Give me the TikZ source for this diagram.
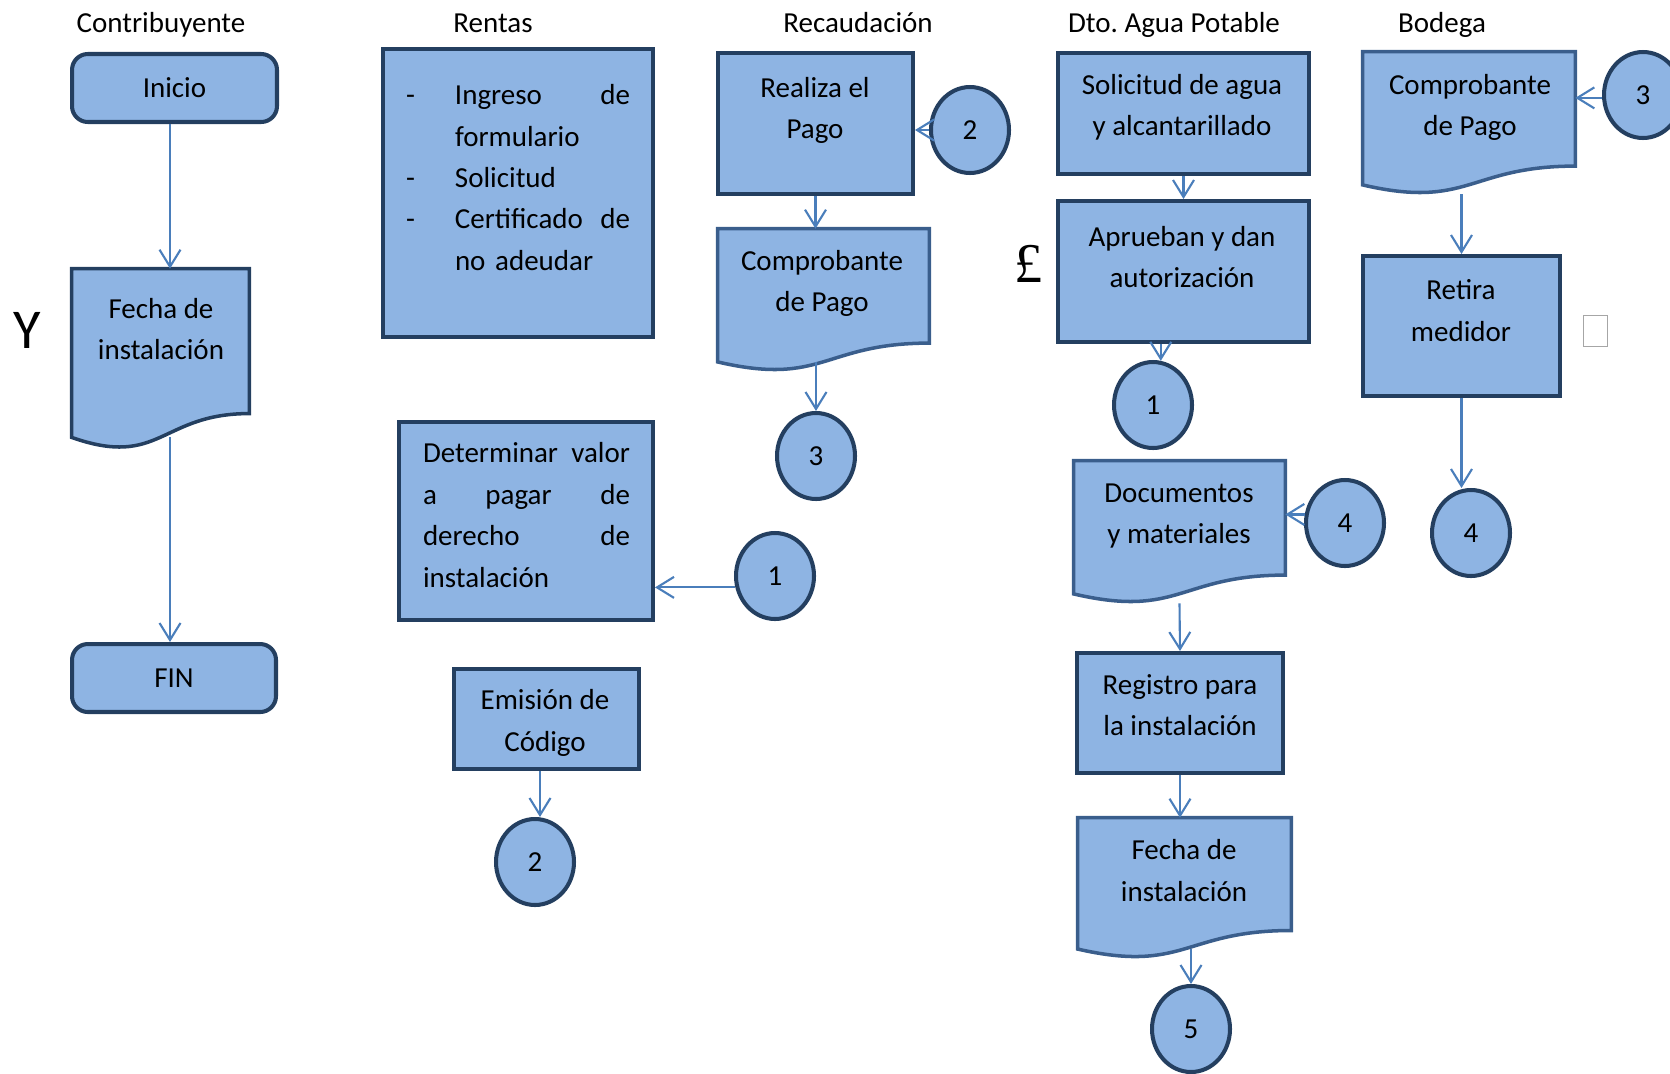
\documentclass[tikz,border=0pt]{standalone}
\usepackage{fontspec}
\setmainfont{Carlito}
\newfontfamily\glyphfont{Liberation Serif}
\usetikzlibrary{arrows.meta,shapes.geometric,calc}
\frenchspacing

\definecolor{boxfill}{RGB}{142,180,227}
\definecolor{boxline}{RGB}{36,63,96}
\definecolor{docline}{RGB}{58,94,140}
\definecolor{flow}{RGB}{74,126,187}

\tikzset{
  proc/.style={draw=boxline, fill=boxfill, line width=2.3pt, rectangle, inner sep=0pt},
  term/.style={proc, rounded corners=9pt},
  conn/.style={proc, ellipse, minimum width=1.56cm, minimum height=1.72cm},
  docarea/.style={rectangle, inner sep=0pt},
  docshape/.style={draw=docline, fill=boxfill, line width=2pt},
  txt/.style={align=center, inner sep=0pt},
  title/.style={anchor=base, inner sep=0pt},
  flowarr/.style={draw=flow, line width=1.2pt, -{Straight Barb[length=0.34cm,width=0.42cm]}},
}

% document symbol with a wavy bottom edge, drawn over a named area
\newcommand\docpath[2][docline]{%
  \filldraw[docshape, draw=#1] (#2.north west) -- (#2.north east)
    -- ($(#2.north east)!0.802!(#2.south east)$)
    .. controls ($(#2.north)!0.802!(#2.south)$) and ($(#2.north)!1.107!(#2.south)$)
    .. ($(#2.north west)!0.934!(#2.south west)$) -- cycle;
  \coordinate (#2-w) at ($(#2.north)!0.933!(#2.south)$);}

\begin{document}
\begin{tikzpicture}[x=0.02cm, y=-0.02cm, font=\fontsize{16.5}{23.6}\selectfont]
  \useasboundingbox (0,0) rectangle (1670,1073);

  % lane titles
  \node[title] (t-contrib) at (161,32) {Contribuyente};
  \node[title] (t-rentas) at (493,32) {Rentas};
  \node[title] (t-recaud) at (858,32) {Recaudación};
  \node[title] (t-agua) at (1174,32) {Dto. Agua Potable};
  \node[title] (t-bodega) at (1442,32) {Bodega};

  % Contribuyente
  \node[term, minimum width=4.1cm, minimum height=1.36cm] (inicio) at (174.5,88) {Inicio};
  \node[docarea, minimum width=3.54cm, minimum height=3.6cm] (fechaA) at (160.5,359) {};
  \docpath[boxline]{fechaA}
  \node[txt] (fechaA-t) at (161,329) {Fecha de\\instalación};
  \node[term, minimum width=4.08cm, minimum height=1.36cm] (fin) at (174,678) {FIN};
  \node (yglyph) at (27,330) {\fontsize{32}{36}\selectfont Y};
  \coordinate (colA) at (170,0);

  % Rentas
  \node[proc, minimum width=5.4cm, minimum height=5.76cm] (requisitos) at (518,193) {};
  \node[txt, align=left, text width=4.48cm] (requisitos-t) at (518,177.5) {%
    \makebox[0.98cm][l]{-}Ingreso\hfill de\\
    \hspace*{0.98cm}formulario\\
    \makebox[0.98cm][l]{-}Solicitud\\
    \makebox[0.98cm][l]{-}Certificado\hfill de\\
    \hspace*{0.98cm}no adeudar};
  \node[proc, minimum width=5.08cm, minimum height=3.96cm] (valor) at (526,521) {};
  \node[txt, align=left, text width=4.14cm] (valor-t) at (526.5,515) {%
    Determinar\hfill valor\\
    a\hfill pagar\hfill de\\
    derecho\hfill de\\
    instalación};
  \node[conn] (c1r) at (775,576) {1};
  \node[proc, minimum width=3.7cm, minimum height=2cm] (emision) at (546.5,719) {};
  \node[txt] (emision-t) at (545,723) {Emisión de\\Código};
  \node[conn] (c2e) at (535,862) {2};
  \coordinate (colE) at (540,0);

  % Recaudación
  \node[proc, minimum width=3.9cm, minimum height=2.82cm] (pago) at (815.5,123.5) {};
  \node[txt] (pago-t) at (815,110.5) {Realiza el\\Pago};
  \node[conn] (c2r) at (970,130) {2};
  \node[docarea, minimum width=4.22cm, minimum height=2.84cm] (compB) at (823.5,300) {};
  \docpath{compB}
  \node[txt] (compB-t) at (822,283.5) {Comprobante\\de Pago};
  \node[conn] (c3r) at (816,456) {3};

  % Dto. Agua Potable
  \node[proc, minimum width=5.02cm, minimum height=2.42cm] (solicitud) at (1183.5,113.5) {};
  \node[txt] (solicitud-t) at (1182,107.5) {Solicitud de agua\\y alcantarillado};
  \node[proc, minimum width=5.02cm, minimum height=2.82cm] (aprueban) at (1183.5,271.5) {};
  \node[txt] (aprueban-t) at (1182,257) {Aprueban y dan\\autorización};
  \node (pound) at (1029,264) {\glyphfont\fontsize{32}{36}\selectfont £};
  \node[conn] (c1d) at (1153,405) {1};
  \node[docarea, minimum width=4.22cm, minimum height=2.84cm] (docum) at (1179.5,532) {};
  \docpath{docum}
  \node[txt] (docum-t) at (1179,516) {Documentos\\y materiales};
  \node[conn] (c4d) at (1345,523) {4};
  \node[proc, minimum width=4.12cm, minimum height=2.4cm] (registro) at (1180,713) {};
  \node[txt] (registro-t) at (1180,705) {Registro para\\la instalación};
  \node[docarea, minimum width=4.26cm, minimum height=2.8cm] (fechaD) at (1184.5,888) {};
  \docpath{fechaD}
  \node[txt] (fechaD-t) at (1184,870.5) {Fecha de\\instalación};
  \node[conn] (c5) at (1191,1029) {5};

  % Bodega
  \node[docarea, minimum width=4.24cm, minimum height=2.84cm] (compE) at (1469,123) {};
  \docpath{compE}
  \node[txt] (compE-t) at (1470,107.5) {Comprobante\\de Pago};
  \node[conn] (c3b) at (1643,95) {3};
  \node[proc, minimum width=3.94cm, minimum height=2.8cm] (retira) at (1461.5,326) {};
  \node[txt] (retira-t) at (1461,310.5) {Retira\\medidor};
  \node[draw=gray!70, fill=white, line width=0.5pt, minimum width=0.48cm, minimum height=0.62cm, inner sep=0pt] (blank) at (1595,330.5) {};
  \node[conn] (c4b) at (1471,533) {4};

  % flow
  \draw[flowarr] (inicio.south -| colA) -- (fechaA.north -| colA);
  \draw[flowarr] (fechaA-w -| colA) -- (fin.north -| colA);
  \draw[flowarr] (c1r.196) -- (c1r.196 -| valor.east);
  \draw[flowarr] (emision.south -| colE) -- (c2e.north -| colE);
  \draw[flowarr] (c2r.west) -- (c2r.west -| pago.east);
  \draw[flowarr] (pago.south) -- (pago.south |- compB.north);
  \draw[flowarr] (compB-w -| c3r) -- (c3r.north);
  \draw[flowarr] (solicitud.south) -- (aprueban.north);
  \draw[flowarr] (aprueban.south -| c1d.80) -- (c1d.80);
  \draw[flowarr] (c4d.168) -- (c4d.168 -| docum.east);
  \draw[flowarr] (docum.south) -- (registro.north);
  \draw[flowarr] (registro.south) -- (registro.south |- fechaD.north);
  \draw[flowarr] (fechaD-w -| c5) -- (c5.north);
  \draw[flowarr] (c3b.184) -- (c3b.184 -| compE.east);
  \draw[flowarr] (retira.north |- compE.south) -- (retira.north);
  \draw[flowarr] (retira.south) -- (retira.south |- c4b.north);
\end{tikzpicture}
\end{document}
